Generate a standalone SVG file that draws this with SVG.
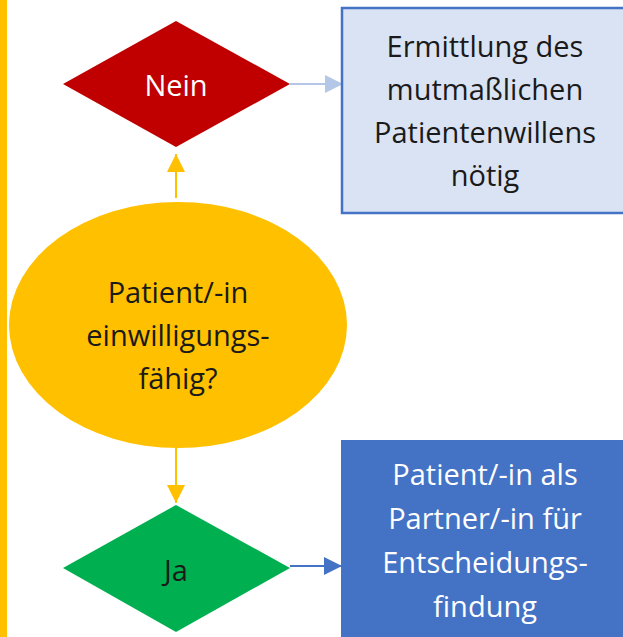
<svg xmlns="http://www.w3.org/2000/svg" width="623" height="637" viewBox="0 0 623 637">
  <style>
    text { font-family: "Open Sans", "Liberation Sans", sans-serif; font-size: 29px; text-anchor: middle; }
    .light { fill: #FFFFFF; }
    .dark { fill: #1A1A1A; }
    .ln { fill: none; stroke-width: 2; }
  </style>
  <defs>
    <marker id="ahLight" markerUnits="userSpaceOnUse" markerWidth="18" markerHeight="18" refX="18" refY="9" orient="auto">
      <path d="M0,0 L18,9 L0,18 Z" fill="#B4C7E7"/>
    </marker>
    <marker id="ahBlue" markerUnits="userSpaceOnUse" markerWidth="18" markerHeight="18" refX="18" refY="9" orient="auto">
      <path d="M0,0 L18,9 L0,18 Z" fill="#4472C4"/>
    </marker>
    <marker id="ahYellow" markerUnits="userSpaceOnUse" markerWidth="18" markerHeight="18" refX="18" refY="9" orient="auto">
      <path d="M0,0 L18,9 L0,18 Z" fill="#FFC000"/>
    </marker>
  </defs>
  <rect width="623" height="637" fill="#FFFFFF"/>
  <rect id="leftbar" x="0" y="0" width="7" height="637" fill="#FFC000"/>

  <g id="connectors">
    <line class="ln" x1="176" y1="198" x2="176" y2="154" stroke="#FFC000" marker-end="url(#ahYellow)"/>
    <line class="ln" x1="176" y1="448" x2="176" y2="503" stroke="#FFC000" marker-end="url(#ahYellow)"/>
    <line class="ln" x1="290" y1="84" x2="343" y2="84" stroke="#B4C7E7" marker-end="url(#ahLight)"/>
    <line class="ln" x1="290" y1="566" x2="342" y2="566" stroke="#4472C4" marker-end="url(#ahBlue)"/>
  </g>

  <g id="node-nein">
    <polygon points="63,84 176,21 290,84 176,147" fill="#C00000"/>
    <text class="light" x="176" y="96">Nein</text>
  </g>

  <g id="node-ermittlung">
    <rect x="342" y="8" width="300" height="205" fill="#DAE3F3" stroke="#4472C4" stroke-width="2.5"/>
    <text class="dark" x="485" y="57">Ermittlung des</text>
    <text class="dark" x="485" y="100">mutmaßlichen</text>
    <text class="dark" x="485" y="143">Patientenwillens</text>
    <text class="dark" x="485" y="186">nötig</text>
  </g>

  <g id="node-frage">
    <ellipse cx="178" cy="325" rx="169" ry="123" fill="#FFC000"/>
    <text class="dark" x="178" y="303">Patient/-in</text>
    <text class="dark" x="178" y="346">einwilligungs-</text>
    <text class="dark" x="178" y="389">fähig?</text>
  </g>

  <g id="node-ja">
    <polygon points="63,568 176,505 290,568 176,632" fill="#00B050"/>
    <text class="dark" x="176" y="581">Ja</text>
  </g>

  <g id="node-partner">
    <rect x="341" y="440" width="300" height="210" fill="#4472C4"/>
    <text class="light" x="485" y="485">Patient/-in als</text>
    <text class="light" x="485" y="529">Partner/-in für</text>
    <text class="light" x="485" y="573">Entscheidungs-</text>
    <text class="light" x="485" y="617">findung</text>
  </g>
</svg>
